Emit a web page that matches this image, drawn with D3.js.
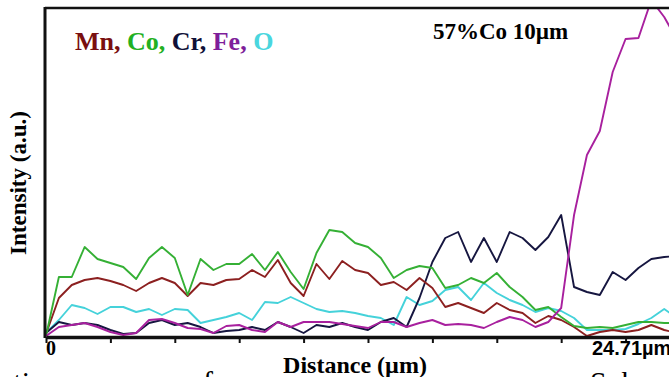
<!DOCTYPE html>
<html>
<head>
<meta charset="utf-8">
<script src="https://cdn.jsdelivr.net/npm/d3@7"></script>
<style>
  body { margin: 0; background: #fff; }
  text { font-family: "Liberation Serif", "Times New Roman", serif; font-weight: bold; }
</style>
</head>
<body>
<div id="chart"></div>
<script>
// line scan, 0.5 um steps
var distance = [0, 0.5, 1, 1.5, 2, 2.5, 3, 3.5, 4, 4.5, 5, 5.5, 6, 6.5, 7, 7.5, 8, 8.5, 9, 9.5,
  10, 10.5, 11, 11.5, 12, 12.5, 13, 13.5, 14, 14.5, 15, 15.5, 16, 16.5, 17, 17.5, 18, 18.5, 19, 19.5,
  20, 20.5, 21, 21.5, 22, 22.5, 23, 23.5, 24, 24.5];

var mn = [1, 19, 25.5, 28, 29, 27.5, 25.5, 22.5, 26.5, 29, 26.5, 20, 26.5, 25.5, 28, 28.5, 33, 29.5, 38, 26.5,
  20, 36, 28.5, 37.5, 33, 31.5, 25.5, 27, 23, 29, 24, 14.5, 16.5, 14, 11.5, 16.5, 13, 11.5, 6.5, 10,
  8, 4.5, 0, 2, 3, 2, 3, 5.5, 3, 1.5];
var co = [0, 29.5, 29.5, 44.5, 38.5, 36.5, 34.5, 28.5, 39, 44.5, 39, 20.5, 38.5, 33, 36, 36, 41, 33, 42, 32,
  23.5, 41.5, 53, 52, 46.5, 44.5, 39, 29, 33, 35, 34, 24, 25.5, 29, 26.5, 31.5, 24.5, 19.5, 13, 14.5,
  9.5, 5, 4, 4.5, 4, 5.5, 7, 7, 6.5, 6.5];
var cr = [1.5, 7, 5.5, 6.5, 5.5, 3, 1, 1.5, 6.5, 8, 5.5, 6.5, 4.5, 1.5, 2.5, 3, 4.5, 3, 7, 4.5,
  1.5, 5.5, 4.5, 6.5, 4.5, 3, 7, 9, 4.5, 19, 37, 49, 52, 37, 49, 37, 52, 49, 43, 49.5,
  60.5, 24.5, 22, 20.5, 32, 28, 34, 38.5, 39.5, 40];
var fe = [0, 4.5, 5.5, 6.5, 4.5, 2, 0.5, 1.5, 8, 8.5, 6.5, 4, 3.5, 1.5, 5, 5.5, 3, 2, 7, 4.5,
  7, 7, 7, 6, 5, 4, 7, 7, 4.5, 6.5, 8, 5.5, 6, 5.5, 4, 7, 9.5, 8, 4.5, 7,
  14, 60.5, 90.5, 102.5, 132, 148.5, 149, 168, 159.5, 148];
var ox = [1.5, 8, 15.5, 14, 11, 14.5, 14.5, 12, 13.5, 10.5, 13.5, 13, 6.5, 8, 9.5, 11.5, 8, 17, 16.5, 19.5,
  16.5, 13.5, 12, 12.5, 11.5, 10, 9, 5.5, 19.5, 15.5, 17.5, 23, 24.5, 18, 26.5, 21.5, 18, 15.5, 12, 14,
  12.5, 9, 3, 3, 3, 3.5, 6, 9, 13.5, 9];

var elements = ["Mn", "Co", "Cr", "Fe", "O"];
var lineColors = ["#8c2020", "#35b035", "#161640", "#a8209e", "#45d2da"];
var labelColors = ["#7a0f0f", "#22b022", "#101038", "#7e1e9a", "#4ad6de"];
var xTicks = [0, 2.5, 5, 7.5, 10, 12.5, 15, 17.5, 20, 22.5];
var xEndLabel = "24.71\u00b5m";

var W = 669, H = 377,
  mLeft = 45, mTop = 8, mBottom = 337;

var svg = d3.select("#chart").append("svg")
  .attr("width", W)
  .attr("height", H);

var x = d3.scaleLinear().domain([0, 24.71]).range([46, 682.5]);
var y = d3.scaleLinear().domain([0, 164]).range([336, mTop]);

svg.append("defs").append("clipPath")
  .attr("id", "plot-clip")
  .append("rect")
  .attr("x", mLeft)
  .attr("y", mTop)
  .attr("width", W - mLeft)
  .attr("height", mBottom - mTop);

var plot = svg.append("g").attr("clip-path", "url(#plot-clip)");

var line = d3.line()
  .x(function(d, i) { return x(distance[i]); })
  .y(function(d) { return y(d); });

// draw order: back to front
var series = [ox, cr, mn, co, fe];
var seriesColor = [lineColors[4], lineColors[2], lineColors[0], lineColors[1], lineColors[3]];
series.forEach(function(s, k) {
  plot.append("path")
    .datum(s)
    .attr("d", line)
    .attr("fill", "none")
    .attr("stroke", seriesColor[k])
    .attr("stroke-width", 1.9)
    .attr("stroke-linejoin", "round");
});

// frame
svg.append("line")
  .attr("x1", mLeft).attr("x2", W)
  .attr("y1", mTop).attr("y2", mTop)
  .attr("stroke", "#111").attr("stroke-width", 2.5);

svg.append("line")
  .attr("x1", mLeft).attr("x2", mLeft)
  .attr("y1", mTop - 1).attr("y2", mBottom + 1)
  .attr("stroke", "#111").attr("stroke-width", 3);

var xAxis = d3.axisBottom(x)
  .tickValues(xTicks)
  .tickFormat("")
  .tickSize(6)
  .tickSizeOuter(0);

var gx = svg.append("g")
  .attr("transform", "translate(0," + mBottom + ")")
  .call(xAxis);
gx.select(".domain").attr("stroke", "#111").attr("stroke-width", 3.5);
gx.selectAll(".tick line").attr("stroke", "#111").attr("stroke-width", 2);

svg.append("text")
  .attr("x", 46).attr("y", 355)
  .attr("font-size", 20)
  .text("0");

svg.append("text")
  .attr("x", 592).attr("y", 355)
  .attr("font-size", 20)
  .style("font-family", "'Liberation Sans', Arial, sans-serif")
  .text(xEndLabel);

svg.append("text")
  .attr("x", 355).attr("y", 373)
  .attr("text-anchor", "middle")
  .attr("font-size", 24)
  .text("Distance (\u00b5m)");

svg.append("text")
  .attr("transform", "translate(26,183) rotate(-90)")
  .attr("text-anchor", "middle")
  .attr("font-size", 23)
  .text("Intensity (a.u.)");

// legend
var legend = svg.append("text")
  .attr("x", 75).attr("y", 50)
  .attr("font-size", 26);
elements.forEach(function(el, i) {
  legend.append("tspan")
    .attr("fill", labelColors[i])
    .text(el + (i < elements.length - 1 ? ", " : ""));
});

svg.append("text")
  .attr("x", 433).attr("y", 39)
  .attr("font-size", 23)
  .text("57%Co 10\u00b5m");

// page text cut off below the figure
svg.append("g").selectAll("text")
  .data([{t: "ctions", x: 0}, {t: "of", x: 188}, {t: "Sub", x: 590}])
  .enter().append("text")
  .attr("x", function(d) { return d.x; })
  .attr("y", 392)
  .attr("font-size", 30)
  .style("font-weight", "normal")
  .text(function(d) { return d.t; });
</script>
</body>
</html>
